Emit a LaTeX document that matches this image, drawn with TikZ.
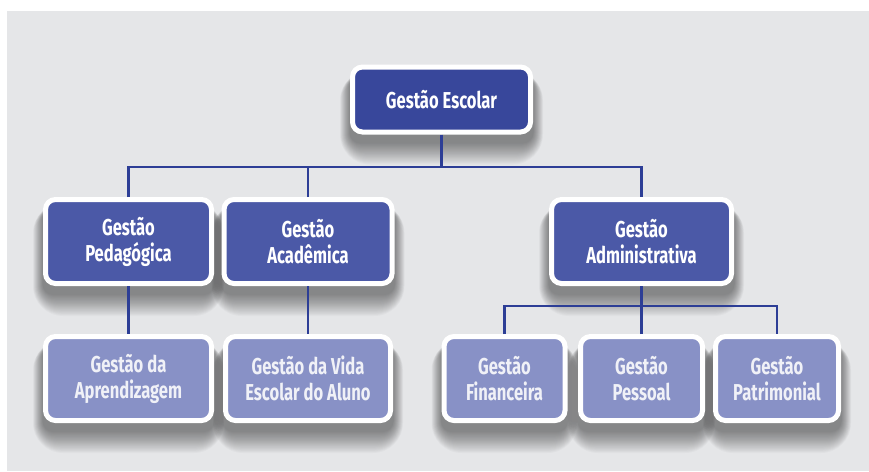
\documentclass[tikz,border=0pt]{standalone}
\usepackage{fontspec}
\setmainfont{Fira Sans}[FakeStretch=0.72]
\usetikzlibrary{calc}
\definecolor{panel}{HTML}{E5E6E8}
\definecolor{topblue}{HTML}{38479B}
\definecolor{midblue}{HTML}{4B59A7}
\definecolor{lowblue}{HTML}{8891C6}
\definecolor{linkblue}{HTML}{2D3E96}
\definecolor{lowtext}{HTML}{F0F1F7}
\pgfdeclarelayer{bg}
\pgfdeclarelayer{shade}
\pgfsetlayers{bg,shade,main}
\tikzset{
  orgbox/.style={draw=white, line width=5pt, rounded corners=10pt,
    align=center, inner sep=0pt, text=white,
    font=\fontsize{23}{26}\selectfont\bfseries},
  topbox/.style={orgbox, fill=topblue, minimum width=178pt, minimum height=65pt},
  midbox/.style={orgbox, fill=midblue, minimum height=84pt},
  lowbox/.style={orgbox, fill=lowblue, text=lowtext, minimum height=84pt},
  link/.style={draw=linkblue, line width=2.6pt},
}
% soft drop shadow under a named node
\newcommand\softshadow[1]{%
  \foreach \r in {1,...,20}{%
    \pgfmathsetmacro\rc{10+\r}%
    \fill[black, opacity=0.022, rounded corners=\rc pt]
      ($(#1.south west)+(-0.5*\r, 8+1.1*\r)$) rectangle
      ($(#1.north east)+(0.5*\r, 12-0.3*\r)$);
  }}
\begin{document}
\begin{tikzpicture}[x=1pt, y=-1pt]
\useasboundingbox (0,0) rectangle (869,471);
\begin{pgfonlayer}{bg}
  \fill[white] (0,0) rectangle (869,471);
  \fill[panel] (7,11) rectangle (869,471);
\end{pgfonlayer}

% top level
\node[topbox] (top) at (441.5,99.5) {Gestão Escolar};

% second level
\node[midbox, minimum width=166pt] (ped) at (128.5,241.5) {Gestão\\Pedagógica};
\node[midbox, minimum width=168pt] (aca) at (308,241.5) {Gestão\\Acadêmica};
\node[midbox, minimum width=180pt] (adm) at (641.5,241.5) {Gestão\\Administrativa};

% third level
\node[lowbox, minimum width=166pt] (apr) at (128.5,378.5) {Gestão da\\Aprendizagem};
\node[lowbox, minimum width=165pt] (vid) at (308,378.5) {Gestão da Vida\\Escolar do Aluno};
\node[lowbox, minimum width=121pt] (fin) at (504.5,378.5) {Gestão\\Financeira};
\node[lowbox, minimum width=122pt] (pes) at (641.5,378.5) {Gestão\\Pessoal};
\node[lowbox, minimum width=123pt] (pat) at (777,378.5) {Gestão\\Patrimonial};

\begin{pgfonlayer}{shade}
  \foreach \n in {top,ped,aca,adm,apr,vid,fin,pes,pat}{\softshadow{\n}}
\end{pgfonlayer}

% connectors
\coordinate (j1) at (441.5,167);
\coordinate (j2) at (641.5,306);
\draw[link] (top.south) -- (j1);
\draw[link] (ped.north) |- (j1) -| (adm.north);
\draw[link] (aca.north) -- (aca.north |- j1);
\draw[link] (ped.south) -- (apr.north);
\draw[link] (aca.south) -- (vid.north);
\draw[link] (adm.south) -- (j2);
\draw[link] (fin.north) |- (j2) -| (pat.north);
\draw[link] (pes.north) -- (pes.north |- j2);
\end{tikzpicture}
\end{document}
